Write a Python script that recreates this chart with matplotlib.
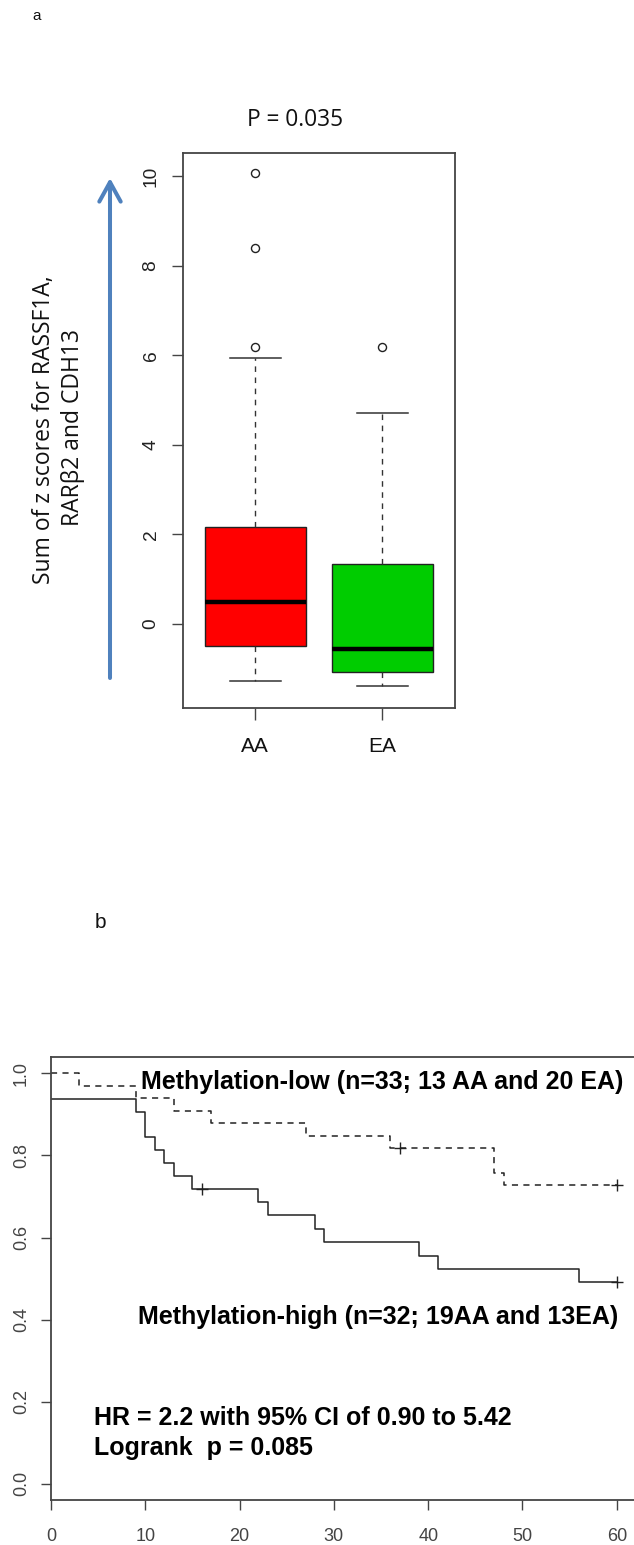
import matplotlib
matplotlib.use("Agg")
import matplotlib.pyplot as plt
import numpy as np

# ---------------- data ----------------
groups = ["AA", "EA"]
box_whislo = [-1.27, -1.38]
box_q1 = [-0.48, -1.06]
box_med = [0.50, -0.565]
box_q3 = [2.165, 1.34]
box_whishi = [5.93, 4.70]
box_fliers = [[6.18, 8.40, 10.07], [6.18]]
box_colors = ["#ff0000", "#00cc00"]
ytick_a = [0, 2, 4, 6, 8, 10]

low_t = [0, 3, 9, 13, 17, 27, 36, 47, 48, 60]
low_s = [1.0, 0.970, 0.939, 0.909, 0.879, 0.848, 0.818, 0.758, 0.727, 0.727]
low_cens_t = [37, 60]
low_cens_s = [0.818, 0.727]

high_t = [0, 9, 10, 11, 12, 13, 15, 22, 23, 28, 29, 39, 41, 56, 60]
high_s = [0.9375, 0.906, 0.844, 0.8125, 0.781, 0.75, 0.719, 0.686, 0.654,
          0.621, 0.589, 0.556, 0.523, 0.491, 0.491]
high_cens_t = [16, 60]
high_cens_s = [0.719, 0.491]

xtick_b = [0, 10, 20, 30, 40, 50, 60]
ytick_b = [0.0, 0.2, 0.4, 0.6, 0.8, 1.0]

W, H = 634, 1545
fig = plt.figure(figsize=(W / 100, H / 100), dpi=100)
fig.patch.set_facecolor("white")

def fr(left, top, right, bottom):
    return [left / W, 1 - bottom / H, (right - left) / W, (bottom - top) / H]

spine_c = "#444444"

# ---------------- panel a ----------------
ax1 = fig.add_axes(fr(183.3, 152.7, 455, 708.3))
stats = []
for i, g in enumerate(groups):
    stats.append(dict(label=g, whislo=box_whislo[i], q1=box_q1[i], med=box_med[i],
                      q3=box_q3[i], whishi=box_whishi[i], fliers=box_fliers[i]))
bp = ax1.bxp(stats, positions=[1, 2], widths=0.8, capwidths=0.4, patch_artist=True,
             boxprops=dict(edgecolor="#222222", linewidth=1.0),
             medianprops=dict(color="black", linewidth=3.2, solid_capstyle="butt"),
             whiskerprops=dict(color="#333333", linewidth=1.0, linestyle=(0, (4, 4))),
             capprops=dict(color="#333333", linewidth=1.1),
             flierprops=dict(marker="o", markerfacecolor="none", markeredgecolor="#222222",
                             markersize=5.8, markeredgewidth=1.0, linestyle="none"))
for patch, c in zip(bp["boxes"], box_colors):
    patch.set_facecolor(c)
ax1.set_xlim(0.433, 2.572)
ax1.set_ylim(-1.88, 10.52)
ax1.set_yticks(ytick_a)
ax1.set_yticklabels([str(v) for v in ytick_a], rotation=90, va="center")
ax1.set_xticks([1, 2])
ax1.set_xticklabels(groups)
for s in ax1.spines.values():
    s.set_color(spine_c)
    s.set_linewidth(1.3)
ax1.tick_params(axis="y", length=8.1, width=1.0, color=spine_c, pad=9,
                labelsize=13.8, labelcolor="#222222")
ax1.tick_params(axis="x", length=8.6, width=1.0, color=spine_c, pad=12,
                labelsize=15, labelcolor="#111111")
for lab in ax1.get_xticklabels() + ax1.get_yticklabels():
    lab.set_fontfamily("Liberation Sans")

fig.text(295.3 / W, 1 - 120 / H, "P = 0.035", family="Open Sans", fontsize=16.4,
         ha="center", va="center", color="#111111")
fig.text(44 / W, 1 - 430 / H, "Sum of z scores for RASSF1A,", family="Open Sans",
         fontsize=16.5, rotation=90, ha="center", va="center", color="#111111")
fig.text(73.3 / W, 1 - 428 / H, "RAR\u03b22 and CDH13", family="Open Sans",
         fontsize=16.5, rotation=90, ha="center", va="center", color="#111111")
fig.text(37 / W, 1 - 16 / H, "a", family="Liberation Sans", fontsize=11,
         ha="center", va="center", color="#111111")

ax1.annotate("", xy=(110, H - 178), xycoords="figure pixels",
             xytext=(110, H - 678), textcoords="figure pixels",
             arrowprops=dict(arrowstyle="->,head_length=1.0,head_width=0.55",
                             mutation_scale=14, lw=2.9, color="#4f81bd",
                             shrinkA=0, shrinkB=0))

# ---------------- panel b ----------------
fig.text(100 / W, 1 - 923 / H, "b", family="Liberation Sans", fontsize=15,
         ha="center", va="center", color="#111111")

ax2 = fig.add_axes(fr(51, 1056.9, 645, 1500.2))
ax2.step(low_t, low_s, where="post", color="#222222", lw=1.1, linestyle=(0, (4, 3.5)))
ax2.step(high_t, high_s, where="post", color="#222222", lw=1.1)
ax2.plot(low_cens_t, low_cens_s, linestyle="none", marker="+", markersize=9,
         markeredgewidth=1.0, color="#222222")
ax2.plot(high_cens_t, high_cens_s, linestyle="none", marker="+", markersize=9,
         markeredgewidth=1.0, color="#222222")
ax2.set_xlim(0, (645 - 51) / 9.43)
ax2.set_ylim(-0.04, 1.04)
ax2.set_xticks(xtick_b)
ax2.set_xticklabels([str(v) for v in xtick_b])
ax2.set_yticks(ytick_b)
ax2.set_yticklabels(["%.1f" % v for v in ytick_b], rotation=90, va="center")
for s in ax2.spines.values():
    s.set_color(spine_c)
    s.set_linewidth(1.3)
ax2.tick_params(axis="both", length=7.2, width=1.0, color=spine_c,
                labelsize=13, labelcolor="#444444")
ax2.tick_params(axis="x", pad=13)
ax2.tick_params(axis="y", pad=8)
for lab in ax2.get_xticklabels() + ax2.get_yticklabels():
    lab.set_fontfamily("Liberation Sans")

bold = dict(family="Liberation Sans", fontweight="bold", fontsize=18, color="black",
            ha="left", va="center")
ax2.text(9.59, 0.980, "Methylation-low (n=33; 13 AA and 20 EA)", **bold)
ax2.text(9.2, 0.406, "Methylation-high (n=32; 19AA and 13EA)", **bold)
ax2.text(4.55, 0.160, "HR = 2.2 with 95% CI of 0.90 to 5.42", **bold)
ax2.text(4.55, 0.087, "Logrank  p = 0.085", **bold)

fig.savefig("out.png", dpi=100, facecolor="white")
